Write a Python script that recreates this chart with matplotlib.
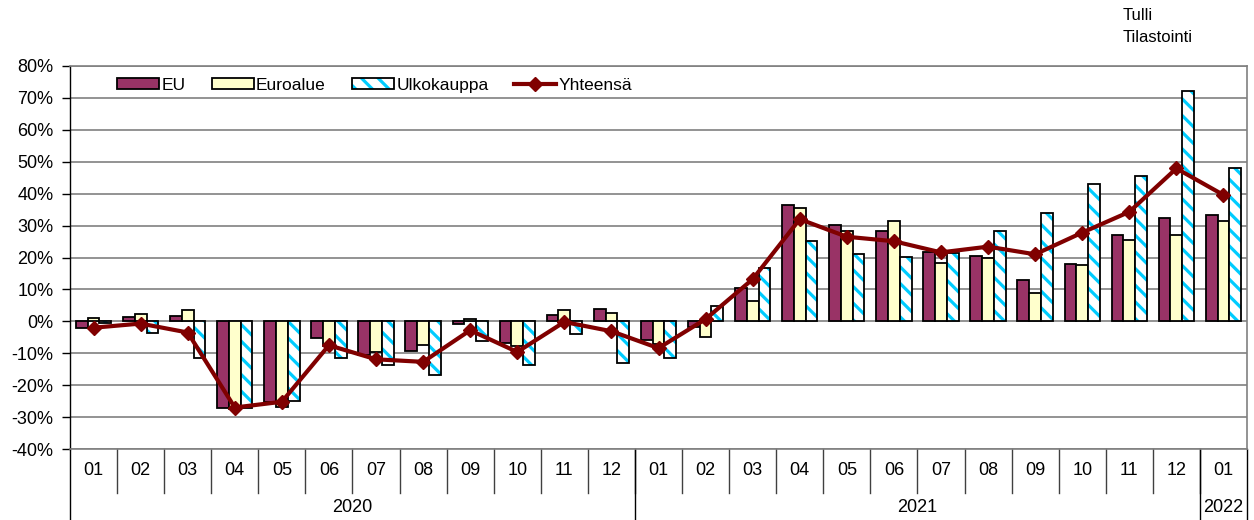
import matplotlib
matplotlib.use("Agg")
import matplotlib.pyplot as plt
import matplotlib.transforms as mtransforms
import numpy as np

plt.rcParams['font.family'] = ['Liberation Sans', 'DejaVu Sans']
plt.rcParams['hatch.linewidth'] = 2.3

# months shown on the category axis
months = ['01', '02', '03', '04', '05', '06', '07', '08', '09', '10', '11', '12',
          '01', '02', '03', '04', '05', '06', '07', '08', '09', '10', '11', '12',
          '01']
years = ['2020', '2021', '2022']
year_len = [12, 12, 1]

# change from previous year, %
eu = [-2.1, 1.5, 1.7, -27.0, -25.2, -5.3, -10.4, -9.4, -0.9, -6.9, 2.1, 3.8,
      -6.0, -1.7, 10.6, 36.5, 30.3, 28.4, 21.6, 20.4, 13.0, 18.1, 27.0, 32.4,
      33.3]
euroalue = [1.0, 2.2, 3.5, -27.5, -26.7, -7.7, -9.5, -7.5, 0.7, -7.6, 3.5, 2.7,
            -7.0, -4.8, 6.4, 35.5, 28.4, 31.5, 18.3, 19.7, 8.9, 17.6, 25.6, 27.0,
            31.5]
ulkokauppa = [-0.4, -3.8, -11.4, -27.0, -25.0, -11.6, -13.6, -16.9, -6.3, -13.8, -3.9, -13.0,
              -11.5, 4.9, 16.8, 25.2, 21.0, 20.1, 21.3, 28.2, 33.9, 42.9, 45.4, 72.2,
              47.9]
yhteensa = [-2.0, -0.7, -3.5, -27.0, -25.2, -7.5, -11.9, -12.7, -2.8, -9.6, -0.2, -3.1,
            -8.4, 0.7, 13.2, 32.0, 26.5, 25.1, 21.6, 23.4, 21.0, 27.8, 34.3, 47.9,
            39.6]

x = np.arange(len(months))
w = 0.25

fig = plt.figure(figsize=(12.54, 5.2), dpi=100)
ax = fig.add_axes([70 / 1254, 71 / 520, 1177 / 1254, 383 / 520])

b1 = ax.bar(x - w, eu, w, color='#993366', edgecolor='black', linewidth=1.3, zorder=2)
b2 = ax.bar(x, euroalue, w, color='#FFFFCC', edgecolor='black', linewidth=1.3, zorder=2)
# hatch colour follows edgecolor, so draw stripes first and the black outline on top
b3h = ax.bar(x + w, ulkokauppa, w, color='white', edgecolor='#00CCFF', hatch='\\\\',
             linewidth=0, zorder=2)
b3 = ax.bar(x + w, ulkokauppa, w, fill=False, edgecolor='black', linewidth=1.3, zorder=2)
ln, = ax.plot(x, yhteensa, color='#800000', lw=3, marker='D', ms=7, zorder=4)

ax.set_xlim(-0.5, len(months) - 0.5)
ax.set_ylim(-40, 80)
ax.set_yticks(np.arange(-40, 81, 10))
ax.set_yticklabels(['%d%%' % v for v in range(-40, 81, 10)], fontsize=13)
ax.yaxis.grid(True, color='#808080', lw=1.2)
ax.set_axisbelow(True)
ax.tick_params(axis='y', length=6, width=1, direction='out', pad=6)
ax.set_xticks([])

for s in ['top', 'right']:
    ax.spines[s].set_color('#808080')
    ax.spines[s].set_linewidth(1.2)
ax.spines['bottom'].set_color('#808080')
ax.spines['bottom'].set_linewidth(1.2)
ax.spines['left'].set_linewidth(1)

# two-level category axis
tr = mtransforms.blended_transform_factory(ax.transData, ax.transAxes)
for i, m in enumerate(months):
    ax.text(i, -0.057, m, transform=tr, ha='center', va='center', fontsize=13)
    if i > 0:
        ax.plot([i - 0.5, i - 0.5], [0, -0.115], transform=tr, color='#404040',
                lw=1, clip_on=False)
start = 0
for y, n in zip(years, year_len):
    ax.text(start + n / 2 - 0.5, -0.152, y, transform=tr, ha='center', va='center',
            fontsize=13)
    start += n
edges = np.cumsum([0] + year_len) - 0.5
for e in edges:
    ax.plot([e, e], [0, -0.183], transform=tr, color='black', lw=1, clip_on=False)

leg = ax.legend([b1, b2, (b3h, b3), ln], ['EU', 'Euroalue', 'Ulkokauppa', 'Yhteensä'],
                loc='upper left', bbox_to_anchor=(0.027, 1.01), ncol=4, frameon=False,
                fontsize=12.5, handlelength=2.4, handleheight=0.6, handletextpad=0.15,
                columnspacing=1.5)

fig.text(1123 / 1254, 1 - 16 / 520, 'Tulli', fontsize=12, va='center', ha='left')
fig.text(1123 / 1254, 1 - 38 / 520, 'Tilastointi', fontsize=12, va='center', ha='left')

fig.savefig('out.png', dpi=100)
